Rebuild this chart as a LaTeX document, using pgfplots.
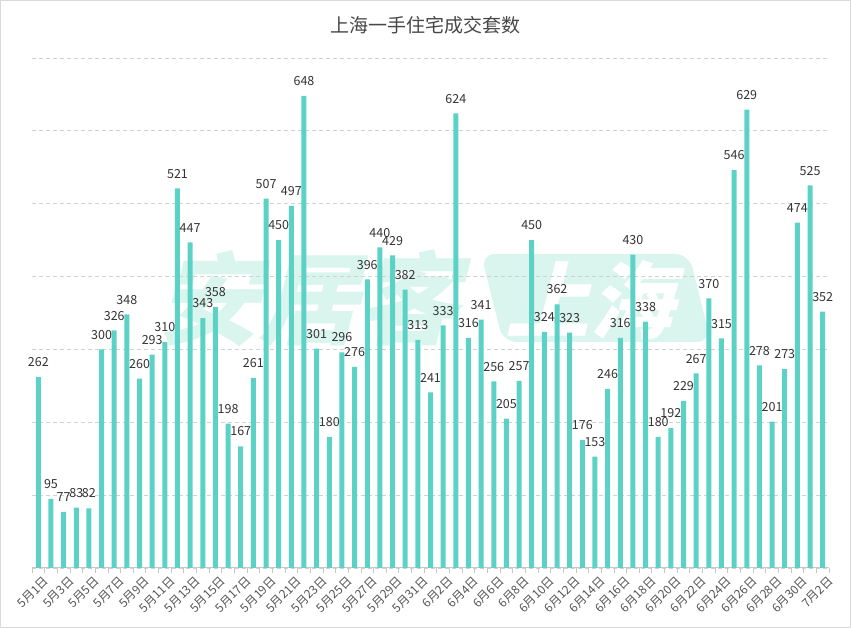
\documentclass[border=0pt]{standalone}
\usepackage{fontspec}
\setmainfont{Noto Sans CJK SC}
\usepackage{pgfplots}
\pgfplotsset{compat=1.18}
\definecolor{barc}{HTML}{5CD2C6}
\definecolor{txt}{HTML}{333333}
\definecolor{ticktxt}{HTML}{555555}
\definecolor{wm}{HTML}{DAF5EE}
\begin{document}
\begin{tikzpicture}
\path[use as bounding box] (0pt,0pt) rectangle (851pt,628pt);
\draw[color=black!15, line width=1pt] (0.5pt,0.5pt) rectangle (850.5pt,627.5pt);
\node[font=\fontsize{19}{19}\selectfont, text=txt!90] at (425.5pt,603pt) {上海一手住宅成交套数};
% watermark
\node[font=\bfseries\fontsize{100}{100}\selectfont, text=wm, xslant=0.25, inner sep=0pt] at (318pt,330pt) {安居客};
\node[fill=wm, rounded corners=14pt, xslant=-0.25, minimum width=208pt, minimum height=88pt, inner sep=0pt] at (596pt,330pt) {};
\node[font=\bfseries\fontsize{84}{84}\selectfont, text=white, xslant=0.25, inner sep=0pt] at (598pt,328pt) {上海};
\begin{axis}[
  at={(32pt,60pt)}, anchor=south west,
  scale only axis, width=797pt, height=510pt,
  xmin=-0.5, xmax=62.5, ymin=0, ymax=700,
  enlargelimits=false,
  separate axis lines,
  axis x line*=bottom, axis y line*=left,
  y axis line style={draw=none},
  x axis line style={color=black!22, line width=1pt},
  ytick={0,100,...,700}, yticklabels={}, ytick style={draw=none},
  ymajorgrids, grid style={color=black!18, dash pattern=on 4pt off 3pt, line width=0.8pt},
  xtick={0,2,...,62},
  major x tick style={draw=none},
  minor xtick={-0.5,0.5,...,62.5},
  minor x tick style={color=black!22, line width=0.8pt},
  minor tick length=5pt,
  tick align=outside,
  xticklabels={5月1日,5月3日,5月5日,5月7日,5月9日,5月11日,5月13日,5月15日,5月17日,5月19日,5月21日,5月23日,5月25日,5月27日,5月29日,5月31日,6月2日,6月4日,6月6日,6月8日,6月10日,6月12日,6月14日,6月16日,6月18日,6月20日,6月22日,6月24日,6月26日,6月28日,6月30日,7月2日},
  xticklabel style={rotate=45, anchor=north east, font=\fontsize{12}{12}\selectfont, text=ticktxt, inner sep=1pt, yshift=-4pt, xshift=2pt},
  ybar, bar width=5pt,
  nodes near coords,
  every node near coord/.append style={font=\fontsize{12.5}{12.5}\selectfont, text=txt, /pgf/number format/assume math mode=true, inner sep=2pt, yshift=8pt},
]
\addplot[fill=barc, draw=none] coordinates {
(0,262) (1,95) (2,77) (3,83) (4,82) (5,300) (6,326) (7,348) (8,260) (9,293)
(10,310) (11,521) (12,447) (13,343) (14,358) (15,198) (16,167) (17,261) (18,507) (19,450)
(20,497) (21,648) (22,301) (23,180) (24,296) (25,276) (26,396) (27,440) (28,429) (29,382)
(30,313) (31,241) (32,333) (33,624) (34,316) (35,341) (36,256) (37,205) (38,257) (39,450)
(40,324) (41,362) (42,323) (43,176) (44,153) (45,246) (46,316) (47,430) (48,338) (49,180)
(50,192) (51,229) (52,267) (53,370) (54,315) (55,546) (56,629) (57,278) (58,201) (59,273)
(60,474) (61,525) (62,352)
};
\end{axis}
\end{tikzpicture}
\end{document}
